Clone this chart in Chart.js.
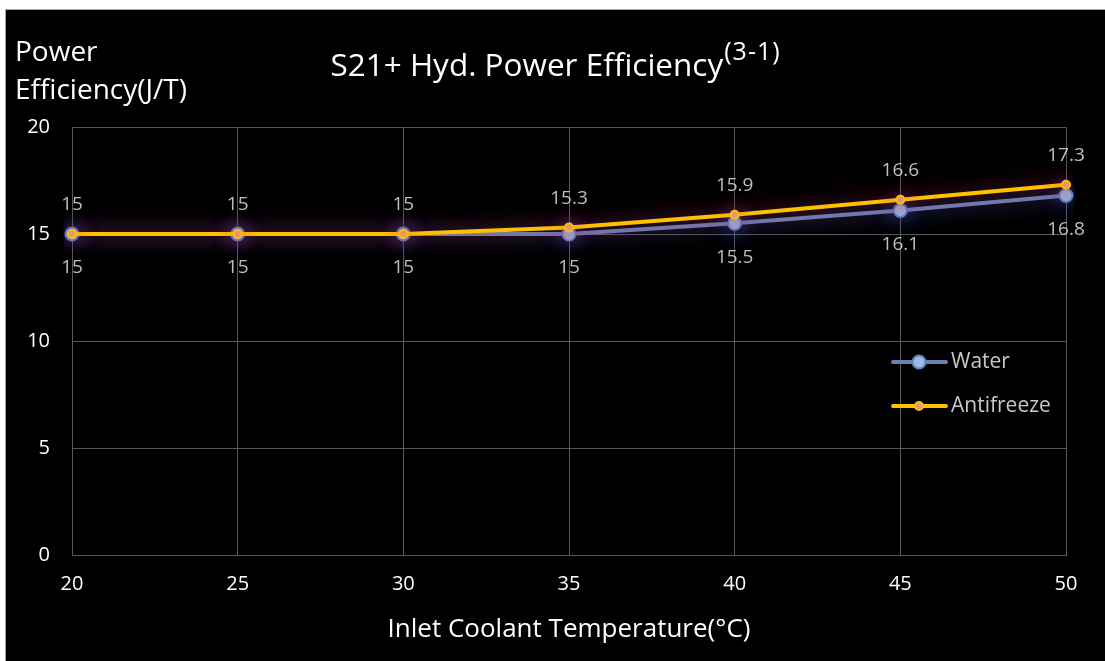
<!DOCTYPE html>
<html><head><meta charset="utf-8">
<script src="https://cdn.jsdelivr.net/npm/chart.js@4"></script>
<style>html,body{margin:0;padding:0;background:#fff}canvas{display:block}</style>
</head><body>
<canvas id="c" width="1105" height="661"></canvas>
<script>
const temperatures = ['20', '25', '30', '35', '40', '45', '50'];
const waterValues = [15, 15, 15, 15, 15.5, 16.1, 16.8];
const antifreezeValues = [15, 15, 15, 15.3, 15.9, 16.6, 17.3];
const seriesNames = ['Water', 'Antifreeze'];
const yMin = 0, yMax = 20, yStep = 5;
const chartTitle = 'S21+ Hyd. Power Efficiency';
const chartTitleSup = '(3-1)';
const yTitleLines = ['Power', 'Efficiency(J/T)'];
const xTitle = 'Inlet Coolant Temperature(°C)';

const FONT = '"Open Sans"';

const bgPlugin = {
  id: 'bg',
  beforeDraw(chart) {
    const ctx = chart.ctx;
    ctx.save();
    ctx.fillStyle = '#ffffff';
    ctx.fillRect(0, 0, chart.width, chart.height);
    ctx.fillStyle = '#a6a6a6';
    ctx.fillRect(5, 9, chart.width - 5, 1);
    ctx.fillRect(5, 9, 1, chart.height - 9);
    ctx.fillStyle = '#000000';
    ctx.fillRect(6, 10, chart.width - 6, chart.height - 10);
    ctx.restore();
  }
};

const glowPlugin = {
  id: 'glow',
  beforeDatasetDraw(chart, args) {
    const ds = chart.data.datasets[args.index];
    chart.ctx.save();
    chart.ctx.shadowColor = ds.glowColor;
    chart.ctx.shadowBlur = 20;
  },
  afterDatasetDraw(chart) {
    chart.ctx.restore();
  }
};

const labelPlugin = {
  id: 'dlabels',
  afterDatasetsDraw(chart) {
    const ctx = chart.ctx;
    ctx.save();
    ctx.font = '19px ' + FONT;
    ctx.fillStyle = '#bfbfbf';
    ctx.textAlign = 'center';
    ctx.textBaseline = 'middle';
    chart.data.datasets.forEach((ds, i) => {
      const meta = chart.getDatasetMeta(i);
      meta.data.forEach((pt, j) => {
        ctx.fillText(String(ds.data[j]), pt.x, pt.y + ds.labelOffset);
      });
    });
    ctx.restore();
  }
};

const textPlugin = {
  id: 'texts',
  afterDraw(chart) {
    const ctx = chart.ctx;
    ctx.save();
    ctx.fillStyle = '#ffffff';
    ctx.textBaseline = 'alphabetic';
    ctx.textAlign = 'left';
    // title with superscript
    ctx.font = '31.5px ' + FONT;
    const w1 = ctx.measureText(chartTitle).width;
    ctx.font = '25px ' + FONT;
    ctx.letterSpacing = '1px';
    const w2 = ctx.measureText(chartTitleSup).width;
    const sx = 555 - (w1 + w2) / 2;
    ctx.letterSpacing = '0px';
    ctx.font = '31.5px ' + FONT;
    ctx.fillText(chartTitle, sx, 76);
    ctx.font = '25px ' + FONT;
    ctx.letterSpacing = '1px';
    ctx.fillText(chartTitleSup, sx + w1 + 1, 60);
    ctx.letterSpacing = '0px';
    // y title
    ctx.font = '28px ' + FONT;
    ctx.fillText(yTitleLines[0], 15, 61);
    ctx.fillText(yTitleLines[1], 15, 99);
    // x title
    ctx.textAlign = 'center';
    ctx.font = '26px ' + FONT;
    ctx.fillText(xTitle, 569, 637);
    // legend
    ctx.textAlign = 'left';
    ctx.textBaseline = 'middle';
    ctx.font = '21px ' + FONT;
    const legendY = [362, 406];
    seriesNames.forEach((name, k) => {
      const ds = chart.data.datasets.find(d => d.label === name);
      const y = legendY[k];
      ctx.strokeStyle = ds.borderColor;
      ctx.lineWidth = 4;
      ctx.lineCap = 'round';
      ctx.beginPath();
      ctx.moveTo(893, y);
      ctx.lineTo(946, y);
      ctx.stroke();
      ctx.beginPath();
      ctx.arc(919, y, ds.pointRadius, 0, Math.PI * 2);
      ctx.fillStyle = ds.pointBackgroundColor;
      ctx.fill();
      ctx.lineWidth = ds.pointBorderWidth;
      ctx.strokeStyle = ds.pointBorderColor;
      ctx.stroke();
      ctx.fillStyle = '#c8c8c8';
      ctx.fillText(name, 951, y);
    });
    ctx.restore();
  }
};

new Chart(document.getElementById('c'), {
  type: 'line',
  data: {
    labels: temperatures,
    datasets: [
      {
        label: seriesNames[1],
        data: antifreezeValues,
        borderColor: '#ffc000',
        borderWidth: 4,
        pointRadius: 4,
        pointBackgroundColor: '#e39a8c',
        pointBorderColor: '#ffc000',
        pointBorderWidth: 2,
        tension: 0,
        order: 0,
        glowColor: 'rgba(210,20,50,0.7)',
        labelOffset: -29
      },
      {
        label: seriesNames[0],
        data: waterValues,
        borderColor: '#6b80b8',
        borderWidth: 4,
        pointRadius: 6.5,
        pointBackgroundColor: '#a3b8e0',
        pointBorderColor: '#5a86c8',
        pointBorderWidth: 2,
        tension: 0,
        order: 1,
        glowColor: 'rgba(70,110,230,0.75)',
        labelOffset: 34
      }
    ]
  },
  options: {
    responsive: false,
    animation: false,
    layout: { padding: { left: 6, top: 127, right: 39, bottom: 0 } },
    plugins: { legend: { display: false }, title: { display: false }, tooltip: { enabled: false } },
    scales: {
      x: {
        type: 'category',
        offset: false,
        grid: { color: '#595959', lineWidth: 1, drawTicks: false },
        border: { color: '#595959', width: 1 },
        ticks: { color: '#ffffff', font: { family: FONT, size: 20 }, padding: 17, maxRotation: 0 },
        afterFit(s) { s.height = 106; }
      },
      y: {
        min: yMin, max: yMax,
        grid: { color: '#595959', lineWidth: 1, drawTicks: false },
        border: { color: '#595959', width: 1 },
        ticks: { stepSize: yStep, color: '#ffffff', font: { family: FONT, size: 20 }, padding: 22 },
        afterFit(s) { s.width = 66; }
      }
    }
  },
  plugins: [bgPlugin, glowPlugin, labelPlugin, textPlugin]
});
</script>
</body></html>
